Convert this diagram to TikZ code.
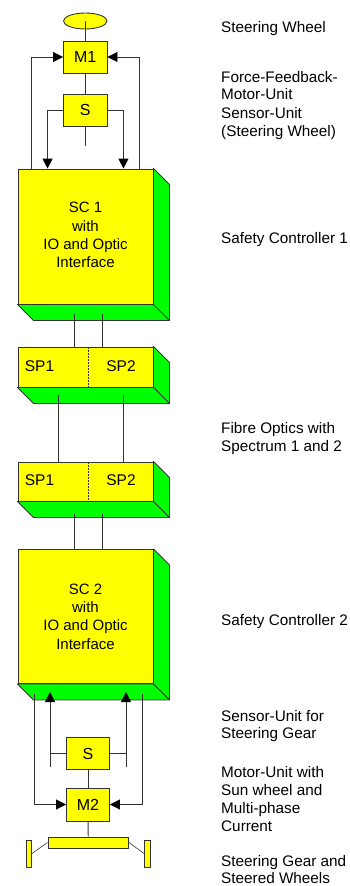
\documentclass[tikz,border=0pt]{standalone}
\usepackage{fontspec}
\setmainfont{Liberation Sans}
\usetikzlibrary{arrows.meta,calc,shapes.geometric}

\definecolor{boxyellow}{RGB}{255,255,0}
\definecolor{boxgreen}{RGB}{0,255,0}

\tikzset{
  unit/.style={draw=black!80, line width=0.9pt, fill=boxyellow, minimum width=#1, inner sep=0pt, align=center, font=\fontsize{15}{18.3}\selectfont},
  blocktext/.style={align=center, inner sep=0pt, font=\fontsize{15}{18.3}\selectfont},
  sidetext/.style={anchor=west, align=left, inner sep=0pt, font=\fontsize{15.3}{17.7}\selectfont},
  wire/.style={draw=black!80, line width=0.9pt},
  feed/.style={wire, -{Triangle[length=10pt,width=10pt,color=black]}},
  splittext/.style={font=\fontsize{15.5}{17}\selectfont},
  divider/.style={wire, line width=1pt, dash pattern=on 1.5pt off 1.5pt},
}

% green sides of a block, depth 16
\newcommand{\blockside}[1]{
  \draw[black!80, line width=0.9pt, fill=boxgreen, line join=round]
    (#1.north east) -- ($(#1.north east)+(16,16)$) -- ($(#1.south east)+(16,16)$)
    -- ($(#1.south west)+(16,16)$) -- (#1.south west) -- (#1.south east) -- cycle;
  \draw[black!80, line width=0.9pt] (#1.south east) -- ($(#1.south east)+(16,16)$);
}

\begin{document}
\begin{tikzpicture}[x=1pt,y=-1pt]
\useasboundingbox (0,0) rectangle (350,886);

% blocks
\node[unit=135pt, minimum height=135pt] (sc1) at (85.5,236.5) {};
\node[unit=135pt, minimum height=40pt] (spa) at (85.5,367) {};
\node[unit=135pt, minimum height=39pt] (spb) at (85.5,481.5) {};
\node[unit=135pt, minimum height=134pt] (sc2) at (85.5,616.5) {};
\blockside{sc1}
\blockside{spa}
\blockside{spb}
\blockside{sc2}

\node[blocktext] (sc1text) at (85.5,235) {SC 1\\with\\IO and Optic\\Interface};
\node[blocktext] (sc2text) at (85.5,616.5) {SC 2\\with\\IO and Optic\\Interface};
\node[splittext] (spa1) at (39.5,366) {SP1};
\node[splittext] (spa2) at (121,366) {SP2};
\node[splittext] (spb1) at (39.5,480) {SP1};
\node[splittext] (spb2) at (121,480) {SP2};
\coordinate (spamid) at (88,347);
\coordinate (spbmid) at (88,462);
\draw[divider] (spamid) -- (spamid |- spa.south);
\draw[divider] (spbmid) -- (spbmid |- spb.south);

% steering wheel side
\node[unit=43.5pt, minimum height=16pt, ellipse] (wheel) at (85.25,21) {};
\node[unit=43.5pt, minimum height=32pt, font=\fontsize{16}{18}\selectfont] (m1) at (85.25,57) {M1};
\node[unit=43.5pt, minimum height=32pt, font=\fontsize{16}{18}\selectfont] (s1) at (85.25,110) {S};
\coordinate (s1end) at (85.25,146);
\draw[wire] (wheel.center) -- (m1.north);
\draw[wire] (m1) -- (s1);
\draw[wire] (s1) -- (s1end);
\draw[feed] (sc1.north west)++(13.5,0) |- (m1.west);
\draw[feed] (sc1.north east)++(-14,0) |- (m1.east);
\draw[feed] (s1.west) -| ($(sc1.north west)+(30,0)$);
\draw[feed] (s1.east) -| ($(sc1.north east)+(-30,0)$);

% fibres
\coordinate (sc1a) at (74.5,314);
\coordinate (sc1b) at (102,314);
\coordinate (spa1end) at (58,395);
\coordinate (spa2end) at (123,395);
\coordinate (spb1end) at (74.5,514);
\coordinate (spb2end) at (102,514);
\draw[wire] (sc1a) -- (sc1a |- spa.north);
\draw[wire] (sc1b) -- (sc1b |- spa.north);
\draw[wire] (spa1end) -- (spa1end |- spb.north);
\draw[wire] (spa2end) -- (spa2end |- spb.north);
\draw[wire] (spb1end) -- (spb1end |- sc2.north);
\draw[wire] (spb2end) -- (spb2end |- sc2.north);

% steering gear side
\node[unit=43pt, minimum height=32pt, font=\fontsize{16}{18}\selectfont] (s2) at (88,753.5) {S};
\node[unit=43pt, minimum height=33pt, font=\fontsize{16}{18}\selectfont] (m2) at (88,804.5) {M2};
\node[unit=80.5pt, minimum height=11pt] (bar) at (88.25,842.5) {};
\node[unit=5.5pt, minimum height=27pt] (wl) at (28.75,853.5) {};
\node[unit=5.5pt, minimum height=27pt] (wr) at (147.25,853.5) {};
\coordinate (s2l) at (50,767);
\coordinate (s2r) at (126,767);
\coordinate (sc2l) at (50,692);
\coordinate (sc2r) at (126,692);
\coordinate (outl) at (34.5,694);
\coordinate (outr) at (142,694);
\draw[wire] (s2) -- (m2);
\draw[wire] (m2) -- (bar);
\draw[feed] (s2l) -- (sc2l);
\draw[feed] (s2r) -- (sc2r);
\draw[wire] (s2.west) -- (s2.west -| s2l);
\draw[wire] (s2.east) -- (s2.east -| s2r);
\draw[feed] (outl) |- (m2.west);
\draw[feed] (outr) |- (m2.east);
\draw[wire, line width=0.6pt] (bar.west) -- (wl.east);
\draw[wire, line width=0.6pt] (bar.east) -- (wr.west);

% labels
\node[sidetext] (lwheel) at (221,29) {Steering Wheel};
\node[sidetext] (lforce) at (221,85.5) {Force-Feedback-\\Motor-Unit};
\node[sidetext] (lsense) at (221,123.5) {Sensor-Unit\\(Steering Wheel)};
\node[sidetext] (lsc1) at (221,240) {Safety Controller 1};
\node[sidetext] (lfibre) at (221,438.5) {Fibre Optics with\\Spectrum 1 and 2};
\node[sidetext] (lsc2) at (221,621.5) {Safety Controller 2};
\node[sidetext] (lgear) at (221,726) {Sensor-Unit for\\Steering Gear};
\node[sidetext] (lmotor) at (221,799) {Motor-Unit with\\Sun wheel and\\Multi-phase\\Current};
\node[sidetext] (lsteer) at (221,869.5) {Steering Gear and\\Steered Wheels};
\end{tikzpicture}
\end{document}
